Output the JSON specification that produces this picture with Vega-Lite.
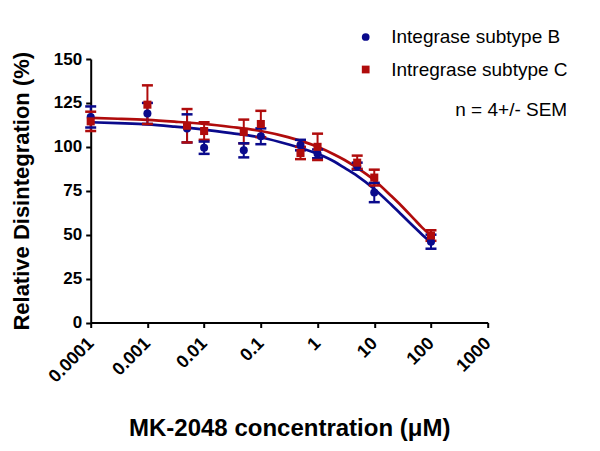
{
  "$schema": "https://vega.github.io/schema/vega-lite/v6.json",
  "width": 397,
  "height": 263.5,
  "autosize": "none",
  "padding": {"left": 90.7, "top": 59, "right": 112.3, "bottom": 128.5},
  "background": "white",
  "config": {
    "view": {"stroke": null},
    "font": "Liberation Sans",
    "axis": {
      "grid": false,
      "domainColor": "black",
      "domainWidth": 2,
      "tickColor": "black",
      "tickWidth": 2,
      "tickSize": 5,
      "labelFont": "Liberation Sans",
      "labelFontWeight": "bold",
      "labelFontSize": 17,
      "labelColor": "black",
      "titleFont": "Liberation Sans",
      "titleFontWeight": "bold",
      "titleFontSize": 22,
      "titleColor": "black"
    },
    "legend": {
      "labelFont": "Liberation Sans",
      "labelFontSize": 19,
      "labelColor": "black",
      "labelLimit": 400,
      "titleFont": "Liberation Sans",
      "titleFontSize": 19,
      "titleFontWeight": "normal",
      "titleColor": "black",
      "titleLimit": 400,
      "padding": 0
    }
  },
  "datasets": {
    "points": [
      {"subtype": "Integrase subtype B", "conc": 0.0001, "mean": 117, "lo": 111, "hi": 123},
      {"subtype": "Integrase subtype B", "conc": 0.001, "mean": 119, "lo": 113, "hi": 125},
      {"subtype": "Integrase subtype B", "conc": 0.005, "mean": 110.5, "lo": 102.5, "hi": 118.5},
      {"subtype": "Integrase subtype B", "conc": 0.01, "mean": 99.5, "lo": 96, "hi": 103},
      {"subtype": "Integrase subtype B", "conc": 0.05, "mean": 98, "lo": 94, "hi": 102},
      {"subtype": "Integrase subtype B", "conc": 0.1, "mean": 106, "lo": 101.5, "hi": 110.5},
      {"subtype": "Integrase subtype B", "conc": 0.5, "mean": 101, "lo": 98, "hi": 104},
      {"subtype": "Integrase subtype B", "conc": 1, "mean": 96, "lo": 93.5, "hi": 98.5},
      {"subtype": "Integrase subtype B", "conc": 5, "mean": 89, "lo": 87, "hi": 91},
      {"subtype": "Integrase subtype B", "conc": 10, "mean": 74, "lo": 68.5, "hi": 79.5},
      {"subtype": "Integrase subtype B", "conc": 100, "mean": 46, "lo": 42, "hi": 50},
      {"subtype": "Intregrase subtype C", "conc": 0.0001, "mean": 114.5, "lo": 109, "hi": 120},
      {"subtype": "Intregrase subtype C", "conc": 0.001, "mean": 124, "lo": 113, "hi": 135},
      {"subtype": "Intregrase subtype C", "conc": 0.005, "mean": 112, "lo": 102.5, "hi": 121.5},
      {"subtype": "Intregrase subtype C", "conc": 0.01, "mean": 109, "lo": 104, "hi": 114},
      {"subtype": "Intregrase subtype C", "conc": 0.05, "mean": 108.5, "lo": 102, "hi": 115.5},
      {"subtype": "Intregrase subtype C", "conc": 0.1, "mean": 113, "lo": 105.5, "hi": 120.5},
      {"subtype": "Intregrase subtype C", "conc": 0.5, "mean": 96.5, "lo": 93, "hi": 100},
      {"subtype": "Intregrase subtype C", "conc": 1, "mean": 100, "lo": 92.5, "hi": 107.5},
      {"subtype": "Intregrase subtype C", "conc": 5, "mean": 91, "lo": 87.5, "hi": 95},
      {"subtype": "Intregrase subtype C", "conc": 10, "mean": 82.5, "lo": 78, "hi": 87},
      {"subtype": "Intregrase subtype C", "conc": 100, "mean": 49.5, "lo": 46.5, "hi": 52.5}
    ],
    "curves": [
      {"subtype": "Integrase subtype B", "conc": 0.0001, "fit": 114},
      {"subtype": "Integrase subtype B", "conc": 0.0003, "fit": 113.5},
      {"subtype": "Integrase subtype B", "conc": 0.001, "fit": 112.8},
      {"subtype": "Integrase subtype B", "conc": 0.003, "fit": 111.5},
      {"subtype": "Integrase subtype B", "conc": 0.01, "fit": 109.8},
      {"subtype": "Integrase subtype B", "conc": 0.03, "fit": 107.8},
      {"subtype": "Integrase subtype B", "conc": 0.1, "fit": 105.3},
      {"subtype": "Integrase subtype B", "conc": 0.3, "fit": 101.5},
      {"subtype": "Integrase subtype B", "conc": 1, "fit": 96},
      {"subtype": "Integrase subtype B", "conc": 2, "fit": 91.5},
      {"subtype": "Integrase subtype B", "conc": 3, "fit": 88},
      {"subtype": "Integrase subtype B", "conc": 5, "fit": 83.5},
      {"subtype": "Integrase subtype B", "conc": 10, "fit": 76},
      {"subtype": "Integrase subtype B", "conc": 20, "fit": 67},
      {"subtype": "Integrase subtype B", "conc": 30, "fit": 61.5},
      {"subtype": "Integrase subtype B", "conc": 50, "fit": 54.5},
      {"subtype": "Integrase subtype B", "conc": 70, "fit": 50},
      {"subtype": "Integrase subtype B", "conc": 100, "fit": 45.5},
      {"subtype": "Intregrase subtype C", "conc": 0.0001, "fit": 116.5},
      {"subtype": "Intregrase subtype C", "conc": 0.0003, "fit": 116},
      {"subtype": "Intregrase subtype C", "conc": 0.001, "fit": 115.3},
      {"subtype": "Intregrase subtype C", "conc": 0.003, "fit": 114.3},
      {"subtype": "Intregrase subtype C", "conc": 0.01, "fit": 113},
      {"subtype": "Intregrase subtype C", "conc": 0.03, "fit": 111.3},
      {"subtype": "Intregrase subtype C", "conc": 0.1, "fit": 109},
      {"subtype": "Intregrase subtype C", "conc": 0.3, "fit": 105.5},
      {"subtype": "Intregrase subtype C", "conc": 1, "fit": 100},
      {"subtype": "Intregrase subtype C", "conc": 2, "fit": 95.5},
      {"subtype": "Intregrase subtype C", "conc": 3, "fit": 92.5},
      {"subtype": "Intregrase subtype C", "conc": 5, "fit": 88},
      {"subtype": "Intregrase subtype C", "conc": 10, "fit": 81},
      {"subtype": "Intregrase subtype C", "conc": 20, "fit": 72},
      {"subtype": "Intregrase subtype C", "conc": 30, "fit": 66.5},
      {"subtype": "Intregrase subtype C", "conc": 50, "fit": 59},
      {"subtype": "Intregrase subtype C", "conc": 70, "fit": 54},
      {"subtype": "Intregrase subtype C", "conc": 100, "fit": 49.5}
    ]
  },
  "layer": [
    {
      "data": {"name": "curves"},
      "mark": {"type": "line", "interpolate": "monotone", "strokeWidth": 2.7},
      "encoding": {
        "x": {"field": "conc", "type": "quantitative",
          "scale": {"type": "log", "domain": [0.0001, 1000], "nice": false},
          "axis": {"values": [0.0001, 0.001, 0.01, 0.1, 1, 10, 100, 1000], "format": "~g", "labelAngle": -45, "labelAlign": "right", "labelBaseline": "middle", "labelPadding": 13, "labelFontSize": 18, "title": "MK-2048 concentration (μM)", "titleFontSize": 24, "titlePadding": 31}},
        "y": {"field": "fit", "type": "quantitative",
          "scale": {"domain": [0, 150], "nice": false},
          "axis": {"values": [0, 25, 50, 75, 100, 125, 150], "labelPadding": 4, "title": "Relative Disintegration (%)", "titlePadding": 20}},
        "color": {"field": "subtype", "type": "nominal", "title": "n = 4+/- SEM",
          "scale": {"domain": ["Integrase subtype B", "Intregrase subtype C"], "range": ["#0a0a8c", "#b00c0c"]},
          "legend": {"orient": "none", "legendX": 265.5, "legendY": -31.5, "titleOrient": "bottom", "titleAnchor": "end", "titlePadding": 21, "labelOffset": 16, "rowPadding": 12.5, "symbolSize": 60, "symbolStrokeWidth": 0}}
      }
    },
    {
      "data": {"name": "points"},
      "mark": {"type": "rule", "strokeWidth": 2},
      "encoding": {
        "x": {"field": "conc", "type": "quantitative"},
        "y": {"field": "lo", "type": "quantitative"},
        "y2": {"field": "hi"},
        "color": {"field": "subtype", "type": "nominal", "title": "n = 4+/- SEM"}
      }
    },
    {
      "data": {"name": "points"},
      "mark": {"type": "tick", "orient": "horizontal", "size": 11, "thickness": 2.5, "opacity": 1},
      "encoding": {
        "x": {"field": "conc", "type": "quantitative"},
        "y": {"field": "lo", "type": "quantitative"},
        "color": {"field": "subtype", "type": "nominal", "title": "n = 4+/- SEM"}
      }
    },
    {
      "data": {"name": "points"},
      "mark": {"type": "tick", "orient": "horizontal", "size": 11, "thickness": 2.5, "opacity": 1},
      "encoding": {
        "x": {"field": "conc", "type": "quantitative"},
        "y": {"field": "hi", "type": "quantitative"},
        "color": {"field": "subtype", "type": "nominal", "title": "n = 4+/- SEM"}
      }
    },
    {
      "data": {"name": "points"},
      "mark": {"type": "point", "filled": true, "opacity": 1},
      "encoding": {
        "x": {"field": "conc", "type": "quantitative"},
        "y": {"field": "mean", "type": "quantitative"},
        "color": {"field": "subtype", "type": "nominal", "title": "n = 4+/- SEM"},
        "shape": {"field": "subtype", "type": "nominal", "title": "n = 4+/- SEM",
          "scale": {"domain": ["Integrase subtype B", "Intregrase subtype C"], "range": ["circle", "square"]}},
        "size": {"value": 65}
      }
    }
  ]
}
